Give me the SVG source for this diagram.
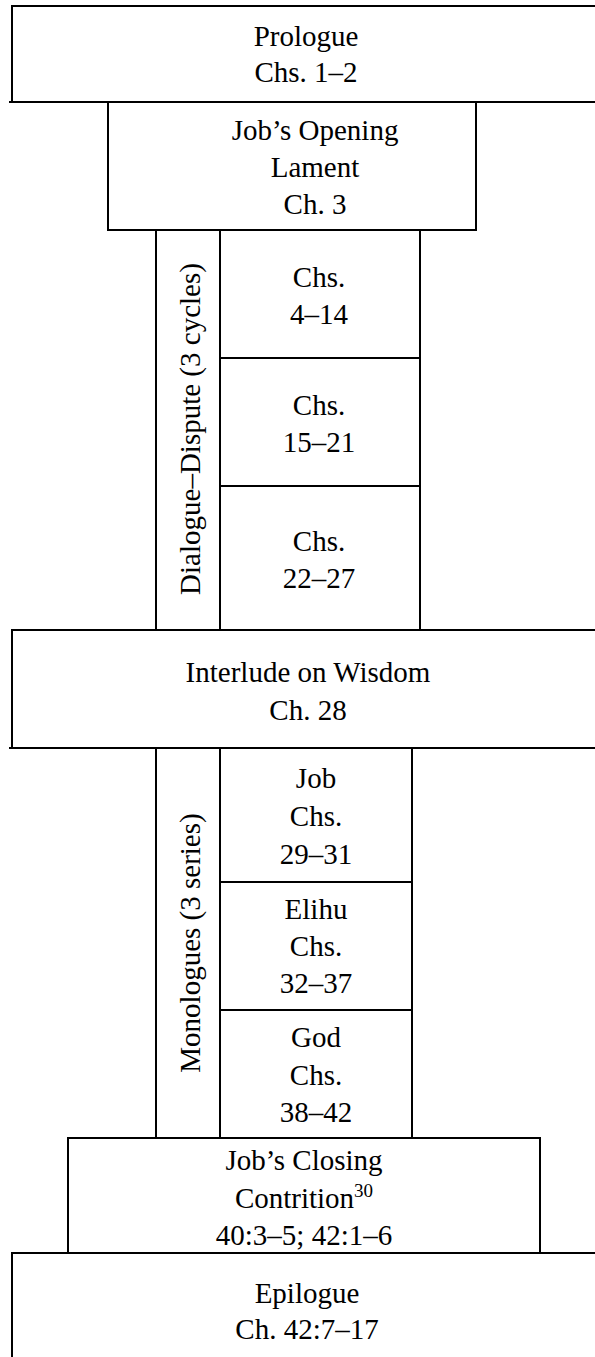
<svg xmlns="http://www.w3.org/2000/svg" width="595" height="1357" viewBox="0 0 595 1357">
<style>
.b{fill:#fff;stroke:#000;stroke-width:2}
.l{fill:none;stroke:#000;stroke-width:2}
.t{font-family:'Liberation Serif','Times New Roman',serif;font-size:29px;fill:#000;text-anchor:middle}
</style>
<rect x="0" y="0" width="595" height="1357" fill="#fff"/>
<g id="prologue">
<path class="l" d="M605 6H12V102M9 102H605"/>
<text class="t" x="306" y="46">Prologue</text>
<text class="t" x="306" y="82">Chs. 1–2</text>
</g>
<g id="opening-lament">
<path class="l" d="M108 102V230H476V102"/>
<text class="t" x="315" y="140">Job’s Opening</text>
<text class="t" x="315" y="177">Lament</text>
<text class="t" x="315" y="214">Ch. 3</text>
</g>
<g id="dialogue-dispute">
<rect class="b" x="156" y="230" width="64" height="400"/>
<text class="t" transform="translate(200 429) rotate(-90)">Dialogue–Dispute (3 cycles)</text>
</g>
<g id="chs-4-14">
<rect class="b" x="220" y="230" width="200" height="128"/>
<text class="t" x="319" y="287">Chs.</text>
<text class="t" x="319" y="324">4–14</text>
</g>
<g id="chs-15-21">
<rect class="b" x="220" y="358" width="200" height="128"/>
<text class="t" x="319" y="415">Chs.</text>
<text class="t" x="319" y="452">15–21</text>
</g>
<g id="chs-22-27">
<rect class="b" x="220" y="486" width="200" height="144"/>
<text class="t" x="319" y="551">Chs.</text>
<text class="t" x="319" y="588">22–27</text>
</g>
<g id="interlude">
<path class="l" d="M605 630H12V748M9 748H605"/>
<text class="t" x="308" y="682">Interlude on Wisdom</text>
<text class="t" x="308" y="720">Ch. 28</text>
</g>
<g id="monologues">
<rect class="b" x="156" y="748" width="64" height="390"/>
<text class="t" transform="translate(200 943) rotate(-90)">Monologues (3 series)</text>
</g>
<g id="job-29-31">
<rect class="b" x="220" y="748" width="192" height="134"/>
<text class="t" x="316" y="788">Job</text>
<text class="t" x="316" y="826">Chs.</text>
<text class="t" x="316" y="864">29–31</text>
</g>
<g id="elihu-32-37">
<rect class="b" x="220" y="882" width="192" height="128"/>
<text class="t" x="316" y="919">Elihu</text>
<text class="t" x="316" y="956">Chs.</text>
<text class="t" x="316" y="993">32–37</text>
</g>
<g id="god-38-42">
<rect class="b" x="220" y="1010" width="192" height="128"/>
<text class="t" x="316" y="1047">God</text>
<text class="t" x="316" y="1085">Chs.</text>
<text class="t" x="316" y="1122">38–42</text>
</g>
<g id="closing-contrition">
<path class="l" d="M68 1253V1138H540V1253"/>
<text class="t" x="304" y="1170">Job’s Closing</text>
<text class="t" x="304" y="1208">Contrition<tspan font-size="19" dy="-11">30</tspan></text>
<text class="t" x="304" y="1245">40:3–5; 42:1–6</text>
</g>
<g id="epilogue">
<path class="l" d="M605 1253H12V1360"/>
<text class="t" x="307" y="1303">Epilogue</text>
<text class="t" x="307" y="1339">Ch. 42:7–17</text>
</g>
</svg>
